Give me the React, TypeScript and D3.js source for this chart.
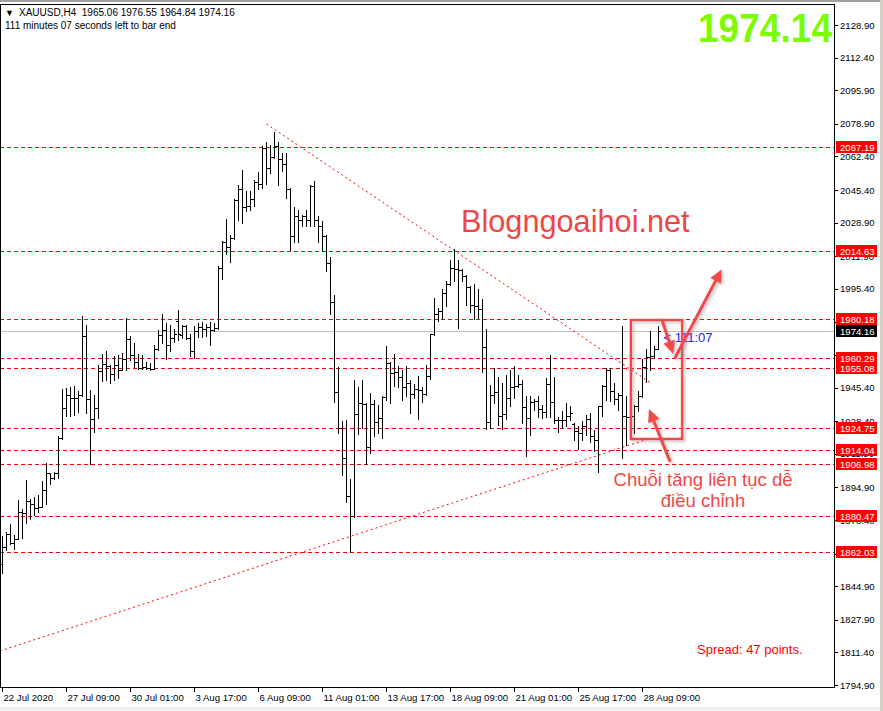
import React from "react";
import * as d3 from "d3";

// ---------- DATA ----------
const opens = [1856.0,1864.6,1871.2,1866.6,1869.0,1882.3,1881.8,1888.2,1886.5,1884.3,1885.0,1893.5,1902.1,1899.9,1902.1,1919.8,1934.9,1941.6,1939.9,1939.9,
1941.8,1971.7,1939.6,1929.6,1934.9,1954.0,1957.5,1956.2,1952.4,1956.7,1954.5,1959.7,1970.0,1961.9,1958.4,1955.2,1956.0,1955.2,1955.0,1964.8,
1972.1,1974.3,1967.0,1970.4,1979.3,1972.1,1976.8,1970.4,1964.0,1973.8,1976.3,1975.0,1976.3,1974.3,1975.5,2005.9,2018.9,2016.5,2021.0,2040.1,
2046.0,2036.8,2037.4,2040.8,2049.3,2048.6,2066.6,2056.5,2062.1,2067.8,2061.1,2058.5,2046.0,2021.9,2032.0,2030.3,2032.4,2030.3,2047.6,2030.0,
2027.0,2021.9,2008.7,1988.5,1943.0,1924.8,1909.6,1890.7,1880.4,1932.1,1937.5,1937.2,1915.2,1937.2,1928.2,1929.9,1940.5,1957.7,1953.0,1953.5,
1951.0,1945.9,1947.6,1942.2,1944.6,1944.0,1942.0,1951.3,1972.4,1982.7,1984.4,1993.5,1997.9,2005.9,2005.3,2005.0,2002.0,1996.2,1987.3,1986.8,
1985.3,1965.9,1928.2,1941.7,1943.0,1931.0,1932.1,1940.0,1945.9,1946.4,1947.3,1935.8,1929.9,1938.0,1938.5,1934.5,1933.3,1947.3,1938.0,1929.0,
1929.0,1929.2,1930.9,1927.0,1923.3,1922.4,1926.2,1929.5,1920.8,1919.1,1935.9,1946.1,1954.5,1943.5,1939.7,1941.9,1930.9,1930.5,1930.9,1935.9,
1941.0,1955.9,1960.9,1961.5,1965.06];
const highs = [1870.3,1872.2,1876.2,1871.0,1888.6,1884.0,1898.7,1889.2,1890.2,1890.8,1898.2,1907.2,1902.4,1902.8,1921.0,1944.7,1945.2,1945.7,1946.0,1943.5,
1981.5,1977.3,1944.3,1941.8,1957.0,1962.4,1964.1,1957.0,1961.2,1962.1,1963.1,1980.7,1971.6,1968.2,1962.3,1961.7,1958.4,1958.0,1966.8,1974.3,
1982.7,1978.0,1977.1,1974.9,1984.7,1977.1,1977.3,1972.6,1976.6,1978.0,1978.5,1977.6,1978.5,1978.3,2006.7,2019.4,2030.8,2022.5,2041.0,2048.1,
2055.7,2044.7,2045.0,2050.3,2054.3,2067.8,2069.9,2068.2,2074.9,2069.5,2064.1,2064.1,2046.4,2036.8,2035.4,2032.9,2035.4,2048.1,2050.1,2032.0,
2029.5,2022.7,2011.3,1992.3,1956.0,1928.5,1929.0,1899.2,1949.3,1945.9,1949.3,1937.8,1942.5,1939.2,1936.6,1940.9,1966.5,1958.2,1962.5,1956.4,
1954.4,1956.4,1949.3,1947.3,1951.3,1945.9,1956.9,1972.6,1990.7,1985.6,1995.2,1999.3,2010.1,2015.5,2010.1,2005.5,2002.5,1996.6,1997.9,1995.4,
1990.1,1974.9,1946.8,1955.2,1951.0,1947.6,1951.8,1954.4,1956.1,1951.8,1949.3,1941.0,1940.9,1939.7,1941.2,1936.6,1950.1,1962.0,1951.0,1930.7,
1933.4,1937.6,1935.9,1927.5,1925.8,1928.4,1931.7,1932.6,1923.8,1936.3,1946.9,1955.4,1955.4,1947.8,1942.7,1976.8,1941.4,1933.4,1936.8,1943.5,
1959.9,1964.7,1973.9,1966.7,1976.55];
const lows = [1851.4,1863.2,1866.1,1863.6,1868.8,1869.5,1877.1,1879.0,1881.0,1882.3,1884.8,1886.7,1896.8,1899.2,1899.5,1919.3,1930.8,1930.8,1931.3,1933.3,
1941.0,1932.8,1906.6,1922.7,1930.0,1948.6,1949.4,1947.7,1949.4,1950.3,1954.3,1954.3,1959.5,1956.0,1954.7,1954.7,1954.7,1954.5,1954.8,1964.5,
1968.2,1959.7,1963.8,1968.7,1969.5,1970.4,1969.9,1961.4,1960.6,1971.2,1971.2,1971.6,1967.0,1974.0,1974.9,2000.3,2012.9,2009.2,2020.5,2030.0,
2028.7,2034.6,2035.4,2037.1,2046.0,2046.4,2048.6,2054.0,2061.5,2047.7,2054.8,2041.6,2015.1,2018.9,2018.9,2027.0,2027.0,2027.3,2027.0,2018.9,
2014.3,2004.5,1982.7,1938.3,1922.6,1901.0,1887.7,1862.0,1879.9,1922.0,1924.8,1906.6,1912.5,1920.9,1922.3,1920.1,1939.2,1937.5,1946.3,1945.9,
1939.2,1941.2,1932.4,1940.0,1929.4,1938.3,1941.6,1949.6,1972.0,1979.3,1980.2,1986.9,1997.5,1999.1,1975.8,1999.1,1987.3,1983.9,1980.0,1980.4,
1953.5,1924.3,1924.8,1937.8,1926.5,1924.3,1929.4,1936.1,1940.0,1945.8,1927.7,1910.8,1921.4,1934.1,1930.7,1929.9,1930.4,1930.7,1927.4,1923.1,
1925.0,1925.8,1929.0,1919.1,1914.3,1919.1,1921.6,1917.7,1913.2,1902.7,1930.9,1939.3,1938.5,1937.3,1934.3,1909.8,1916.5,1922.8,1922.4,1933.4,
1940.7,1948.1,1954.5,1960.4,1964.84];
const closes = [1864.6,1871.2,1866.6,1869.0,1882.3,1881.8,1888.2,1886.5,1884.3,1885.0,1893.5,1902.1,1899.9,1902.1,1919.8,1934.9,1941.6,1939.9,1939.9,1941.8,
1971.7,1939.6,1929.6,1934.9,1954.0,1957.5,1956.2,1952.4,1956.7,1954.5,1959.7,1970.0,1961.9,1958.4,1955.2,1956.0,1955.2,1955.0,1964.8,1972.1,
1974.3,1967.0,1970.4,1972.4,1972.4,1976.8,1970.4,1964.0,1973.8,1976.3,1975.0,1976.3,1974.3,1975.5,2005.9,2018.9,2016.5,2021.0,2040.1,2046.0,
2036.8,2037.4,2040.8,2049.3,2048.6,2066.6,2056.5,2062.1,2067.8,2061.1,2058.5,2046.0,2021.9,2032.0,2030.3,2032.4,2030.3,2047.6,2030.0,2027.0,
2021.9,2008.7,1988.5,1943.0,1924.8,1909.6,1890.7,1880.4,1932.1,1937.5,1937.2,1915.2,1937.2,1928.2,1929.9,1940.5,1957.7,1953.0,1953.5,1951.0,
1945.9,1947.6,1942.2,1944.6,1944.0,1942.0,1951.3,1972.4,1982.7,1984.4,1993.5,1997.9,2005.9,2005.3,2005.0,2002.0,1996.2,1987.3,1986.8,1985.3,
1965.9,1928.2,1941.7,1943.0,1931.0,1932.1,1940.0,1945.9,1946.4,1947.3,1935.8,1929.9,1938.0,1938.5,1934.5,1933.3,1947.3,1938.0,1929.0,1929.0,
1929.2,1930.9,1932.5,1923.3,1922.4,1926.2,1929.5,1920.8,1919.1,1935.9,1946.1,1954.5,1943.5,1939.7,1941.9,1930.9,1930.5,1930.9,1935.9,1941.0,
1955.9,1960.9,1961.5,1965.0,1974.16];

const priceTicks = [2128.90,2112.40,2095.90,2078.90,2062.40,2045.40,2028.90,2011.90,1995.40,1978.40,1961.90,1945.40,1928.40,1911.90,1894.90,1878.40,1861.40,1844.90,1827.90,1811.40,1794.90];
const levels = [2067.19,2014.63,1980.18,1960.29,1955.08,1924.75,1914.04,1906.98,1880.47,1862.03];
const bidPrice = 1974.16;
const timeTickBars = [0,16,32,48,64,80,96,112,128,144,160];
const timeTickLabels = ["22 Jul 2020","27 Jul 09:00","30 Jul 01:00","3 Aug 17:00","6 Aug 09:00","11 Aug 01:00","13 Aug 17:00","18 Aug 09:00","21 Aug 01:00","25 Aug 17:00","28 Aug 09:00"];
// trend lines: [bar, price] endpoints
const trendDown = [[66, 2078.8],[162.4, 1947.3]];
const trendUp = [[-0.625, 1812.1],[161.4, 1919.4]];
// annotation (bar/price space)
const boxBars = [157.1, 169.9];
const boxPrices = [1919.4, 1979.6];
const arrows = [
  [[164.8, 1980.0],[167.7, 1962.4]],
  [[168.1, 1960.4],[179.8, 2005.3]],
  [[166.9, 1907.9],[161.6, 1934.6]],
];

const FONT = "'Liberation Sans', Arial, sans-serif";

export default function App() {
  const W = 883, H = 711;
  const plotRight = 834, plotBottom = 687, plotTop = 4;
  const x = d3.scaleLinear().domain([0, 1]).range([2.5, 6.5]);
  const y = d3.scaleLinear().domain([1794.9, 2128.9]).range([685, 25]);

  const bars = opens.map((o, i) => ({ o, h: highs[i], l: lows[i], c: closes[i], i }));

  // tick labels completely covered by a level / bid label are not drawn (hidden in the reference too)
  const coverPrices = levels.concat([bidPrice]);
  const visibleTicks = priceTicks.filter((p) => !coverPrices.some((q) => Math.abs(y(p) - y(q)) < 2.5));

  const arrowShape = (p1: number[], p2: number[], key: number) => {
    const x1 = x(p1[0]), y1 = y(p1[1]), x2 = x(p2[0]), y2 = y(p2[1]);
    const dx = x2 - x1, dy = y2 - y1;
    const len = Math.hypot(dx, dy);
    const ux = dx / len, uy = dy / len;
    const hl = 13, hw = 6;
    const bx = x2 - ux * hl, by = y2 - uy * hl;
    const pts = [
      [x2, y2],
      [bx - uy * hw, by + ux * hw],
      [bx + uy * hw, by - ux * hw],
    ];
    return (
      <g key={key} filter="url(#shadow)">
        <line x1={x1} y1={y1} x2={bx + ux * 2} y2={by + uy * 2} stroke="#f04a4a" strokeWidth={3} />
        <polygon points={pts.map((p) => p.join(",")).join(" ")} fill="#f04a4a" />
      </g>
    );
  };

  return (
    <div style={{ position: "absolute", left: 0, top: 0 }}>
      <svg width={W} height={H} style={{ display: "block", fontFamily: FONT }}>
        <defs>
          <filter id="shadow" x="-20%" y="-20%" width="140%" height="140%">
            <feDropShadow dx="2" dy="2" stdDeviation="1.5" floodColor="#808080" floodOpacity="0.45" />
          </filter>
          <clipPath id="plotClip">
            <rect x={0} y={plotTop} width={plotRight} height={plotBottom - plotTop} />
          </clipPath>
        </defs>
        <rect x={0} y={0} width={W} height={H} fill="#ffffff" />
        <rect x={0} y={0} width={W} height={2} fill="#a0a0a0" />
        <rect x={0} y={707} width={W} height={4} fill="#f0f0f0" />
        <rect x={880} y={0} width={3} height={H} fill="#d4d0c8" />

        <g clipPath="url(#plotClip)">
          {/* horizontal levels */}
          {levels.map((p, k) => (
            <line key={k} x1={0} x2={plotRight} y1={Math.round(y(p)) + 0.5} y2={Math.round(y(p)) + 0.5}
              stroke="#ff0000" strokeWidth={1} strokeDasharray="4,3" />
          ))}
          <line x1={0} x2={plotRight} y1={Math.round(y(bidPrice)) + 0.5} y2={Math.round(y(bidPrice)) + 0.5} stroke="#c0c0c0" strokeWidth={1} />
          {/* trend lines */}
          <line x1={x(trendDown[0][0])} y1={y(trendDown[0][1])} x2={x(trendDown[1][0])} y2={y(trendDown[1][1])}
            stroke="#ff0000" strokeWidth={1} strokeDasharray="2,3" />
          <line x1={x(trendUp[0][0])} y1={y(trendUp[0][1])} x2={x(trendUp[1][0])} y2={y(trendUp[1][1])}
            stroke="#ff0000" strokeWidth={1} strokeDasharray="2,3" />
          {/* OHLC bars */}
          {bars.map((b) => {
            const cx = Math.floor(x(b.i));
            const yh = Math.round(y(b.h)), yl = Math.round(y(b.l));
            return (
              <g key={b.i} fill="#000000" shapeRendering="crispEdges">
                <rect x={cx} y={yh} width={1} height={Math.max(1, yl - yh + 1)} />
                <rect x={cx - 2} y={Math.round(y(b.o))} width={2} height={1} />
                <rect x={cx + 1} y={Math.round(y(b.c))} width={2} height={1} />
              </g>
            );
          })}
        </g>

        {/* frame */}
        <rect x={0.5} y={plotTop + 0.5} width={plotRight} height={plotBottom - plotTop} fill="none" stroke="#000" strokeWidth={1} shapeRendering="crispEdges" />

        {/* price axis */}
        {priceTicks.map((p, k) => (
          <line key={k} x1={plotRight} x2={plotRight + 4} y1={Math.round(y(p)) + 0.5} y2={Math.round(y(p)) + 0.5} stroke="#000" />
        ))}
        {visibleTicks.map((p, k) => (
          <text key={k} x={840} y={y(p) + 3.5} fontSize={9.6} fill="#000">{p.toFixed(2)}</text>
        ))}
        {levels.map((p, k) => (
          <g key={k}>
            <rect x={836} y={Math.round(y(p)) - 6} width={41} height={12} fill="#ff0000" />
            <text x={840} y={Math.round(y(p)) + 4} fontSize={9.6} fill="#ffffff">{p.toFixed(2)}</text>
          </g>
        ))}
        <rect x={836} y={Math.round(y(bidPrice)) - 6} width={41} height={12} fill="#000000" />
        <text x={840} y={Math.round(y(bidPrice)) + 4} fontSize={9.6} fill="#ffffff">{bidPrice.toFixed(2)}</text>

        {/* time axis */}
        {timeTickBars.map((bi, k) => {
          const tx = Math.floor(x(bi)) + 0.5;
          return (
            <g key={k}>
              <line x1={tx} x2={tx} y1={plotBottom} y2={plotBottom + 5} stroke="#000" />
              <text x={tx + 1} y={701} fontSize={9.6} fill="#000">{timeTickLabels[k]}</text>
            </g>
          );
        })}

        {/* header */}
        <text x={5} y={16} fontSize={9} fill="#000">▼</text>
        <text x={19} y={16} fontSize={10} fill="#000" style={{ whiteSpace: "pre" }}>XAUUSD,H4  1965.06 1976.55 1964.84 1974.16</text>
        <text x={5} y={29} fontSize={10} fill="#000">111 minutes 07 seconds left to bar end</text>

        {/* big price */}
        <text x={832} y={42} fontSize={40} fontWeight="bold" fill="#7cfc00" textAnchor="end" textLength={134} lengthAdjust="spacingAndGlyphs">1974.14</text>

        {/* countdown */}
        <text x={x(164) + 5} y={342} fontSize={13} fill="#2020ff" style={{ whiteSpace: "pre" }}>{"< 111:07"}</text>

        {/* watermark / notes */}
        <text x={461} y={232} fontSize={30.7} fill="#f04545">Blogngoaihoi.net</text>
        <text x={703} y={486} fontSize={18.5} fill="#f04848" textAnchor="middle">Chuỗi tăng liên tục dễ</text>
        <text x={703} y={507} fontSize={18.5} fill="#f04848" textAnchor="middle">điều chỉnh</text>
        <text x={697} y={654} fontSize={13} fill="#ff0000">Spread: 47 points.</text>

        {/* annotation box and arrows */}
        <rect x={x(boxBars[0])} y={y(boxPrices[1])} width={x(boxBars[1]) - x(boxBars[0])} height={y(boxPrices[0]) - y(boxPrices[1])}
          fill="none" stroke="#f04a4a" strokeWidth={2.5} filter="url(#shadow)" />
        {arrows.map((a, k) => arrowShape(a[0], a[1], k))}
      </svg>
    </div>
  );
}
